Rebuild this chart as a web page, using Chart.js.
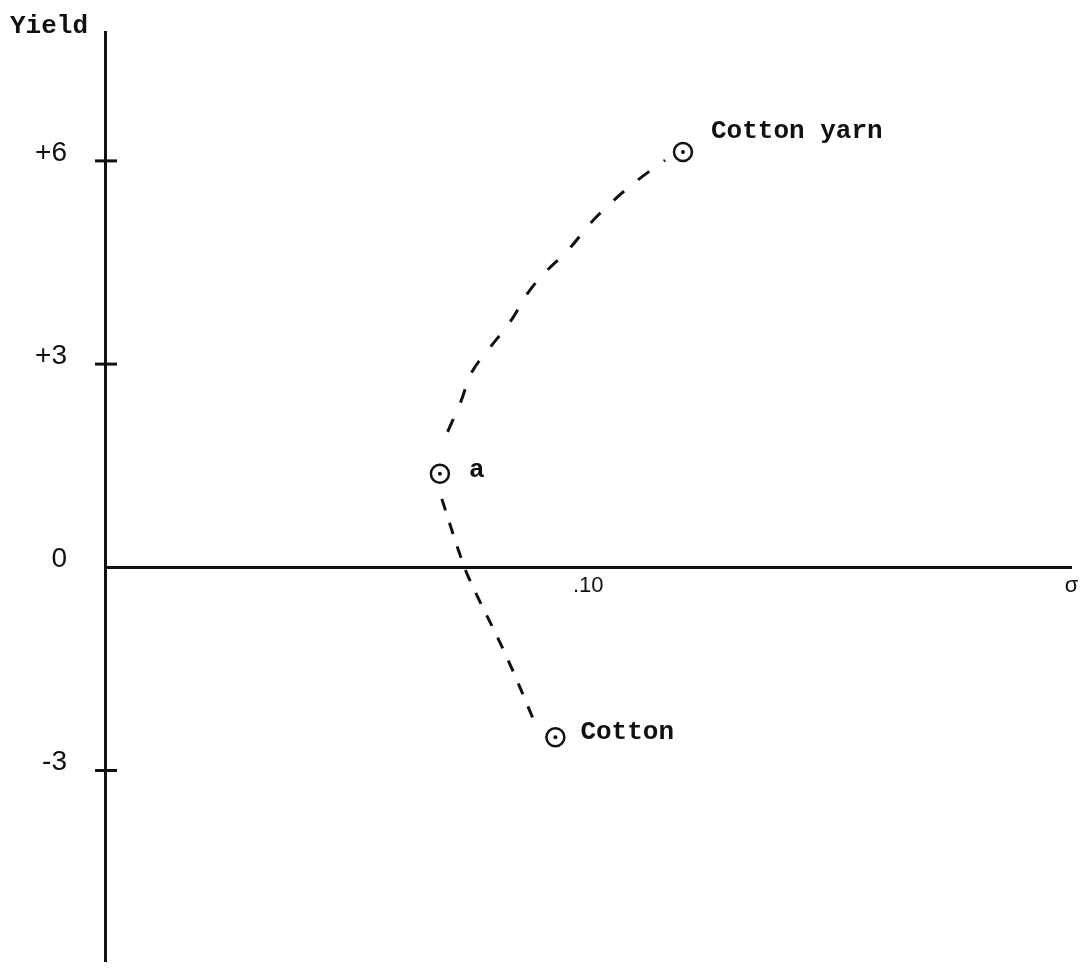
<!DOCTYPE html>
<html>
<head>
<meta charset="utf-8">
<script src="https://cdn.jsdelivr.net/npm/chart.js@4"></script>
<style>
  html, body { margin: 0; padding: 0; background: #fff; }
  #wrap { width: 1083px; height: 973px; }
</style>
</head>
<body>
<div id="wrap"><canvas id="chart"></canvas></div>
<script>
// axis ticks
const sigmaTicks = [0.10, 0.20]
const sigmaTickLabels = ['.10', 'σ']
const yieldTicks = [-3, 0, 3, 6]
const yieldTickLabels = ['-3', '0', '+3', '+6']

// plotted points
const pointNames = ['a', 'Cotton', 'Cotton yarn']
const pointSigma = [0.0693, 0.0932, 0.1196]
const pointYield = [1.38, -2.51, 6.13]

// dashed curve from a up to cotton yarn
const upperSigma = [0.0709, 0.0736, 0.0759, 0.0794, 0.0839, 0.0876, 0.0913, 0.0959, 0.1006, 0.1047, 0.1103, 0.1159]
const upperYield = [2.00, 2.44, 2.88, 3.22, 3.63, 4.06, 4.37, 4.69, 5.09, 5.38, 5.72, 6.01]

// dashed curve from a down to cotton
const lowerSigma = [0.0697, 0.0732, 0.0753, 0.0829, 0.0891]
const lowerYield = [1.01, 0.24, -0.16, -1.29, -2.32]

const ink = '#111'
const typewriter = 'Liberation Mono'
const numberFont = 'Liberation Sans'

const toXY = (xs, ys) => xs.map((x, i) => ({ x: x, y: ys[i] }))

// name placement next to each circle: [dx, dy to baseline]
const nameOffsets = [[29, 3], [25, 2], [28, -14]]

const pointNamesPlugin = {
  id: 'pointNames',
  afterDatasetsDraw(chart) {
    const meta = chart.getDatasetMeta(2)
    const ctx = chart.ctx
    ctx.save()
    ctx.fillStyle = ink
    ctx.font = 'bold 26px "' + typewriter + '"'
    ctx.textAlign = 'left'
    ctx.textBaseline = 'alphabetic'
    meta.data.forEach((pt, i) => {
      ctx.fillText(pointNames[i], pt.x + nameOffsets[i][0], pt.y + nameOffsets[i][1])
    })
    ctx.restore()
  }
}

// short tick marks that cross the yield axis
const crossTicksPlugin = {
  id: 'crossTicks',
  afterDraw(chart) {
    const y = chart.scales.y
    const ctx = chart.ctx
    const axisX = chart.chartArea.left
    ctx.save()
    ctx.strokeStyle = ink
    ctx.lineWidth = 3
    yieldTicks.forEach(v => {
      if (v === 0) return
      const py = y.getPixelForValue(v)
      ctx.beginPath()
      ctx.moveTo(axisX - 10, py)
      ctx.lineTo(axisX + 12, py)
      ctx.stroke()
    })
    ctx.restore()
  }
}

const ctx = document.getElementById('chart').getContext('2d')

new Chart(ctx, {
  type: 'scatter',
  data: {
    datasets: [
      {
        data: toXY(upperSigma, upperYield),
        showLine: true,
        borderColor: ink,
        borderWidth: 3,
        borderDash: [14, 18],
        tension: 0.4,
        pointRadius: 0
      },
      {
        data: toXY(lowerSigma, lowerYield),
        showLine: true,
        borderColor: ink,
        borderWidth: 3,
        borderDash: [12, 13],
        tension: 0.4,
        pointRadius: 0
      },
      {
        // centre dots, drawn on top of the rings
        data: toXY(pointSigma, pointYield),
        pointRadius: 2,
        pointBorderWidth: 0,
        pointBackgroundColor: ink
      },
      {
        // rings
        data: toXY(pointSigma, pointYield),
        pointRadius: 9,
        pointBorderWidth: 2.5,
        pointBorderColor: ink,
        pointBackgroundColor: '#fff'
      }
    ]
  },
  options: {
    responsive: true,
    maintainAspectRatio: false,
    animation: false,
    layout: {
      padding: { left: 10, right: 8, top: 0, bottom: 8 }
    },
    plugins: {
      legend: { display: false },
      tooltip: { enabled: false },
      title: {
        display: true,
        text: 'Yield',
        align: 'start',
        color: ink,
        font: { family: typewriter, size: 26, weight: 'bold' },
        padding: { top: 11, bottom: -10 }
      }
    },
    scales: {
      x: {
        type: 'linear',
        min: 0,
        max: 0.2,
        position: { y: 0 },
        afterBuildTicks: (scale) => {
          scale.ticks = sigmaTicks.map(v => ({ value: v }))
        },
        afterFit: (scale) => {
          scale.paddingLeft = 0
          scale.paddingRight = 0
        },
        grid: { drawOnChartArea: false, drawTicks: false },
        border: { width: 3, color: ink },
        ticks: {
          padding: 5,
          color: ink,
          maxRotation: 0,
          autoSkip: false,
          font: { family: numberFont, size: 22 },
          callback: (value, index) => sigmaTickLabels[index]
        }
      },
      y: {
        type: 'linear',
        min: -5.82,
        max: 7.9,
        position: 'left',
        afterBuildTicks: (scale) => {
          scale.ticks = yieldTicks.map(v => ({ value: v }))
        },
        afterFit: (scale) => {
          scale.width = 95
          scale.paddingTop = 0
          scale.paddingBottom = 0
        },
        grid: { drawOnChartArea: false, drawTicks: false },
        border: { width: 3, color: ink },
        ticks: {
          padding: 38,
          labelOffset: -8,
          color: ink,
          autoSkip: false,
          font: { family: numberFont, size: 28 },
          callback: (value, index) => yieldTickLabels[index]
        }
      }
    }
  },
  plugins: [pointNamesPlugin, crossTicksPlugin]
})
</script>
</body>
</html>
